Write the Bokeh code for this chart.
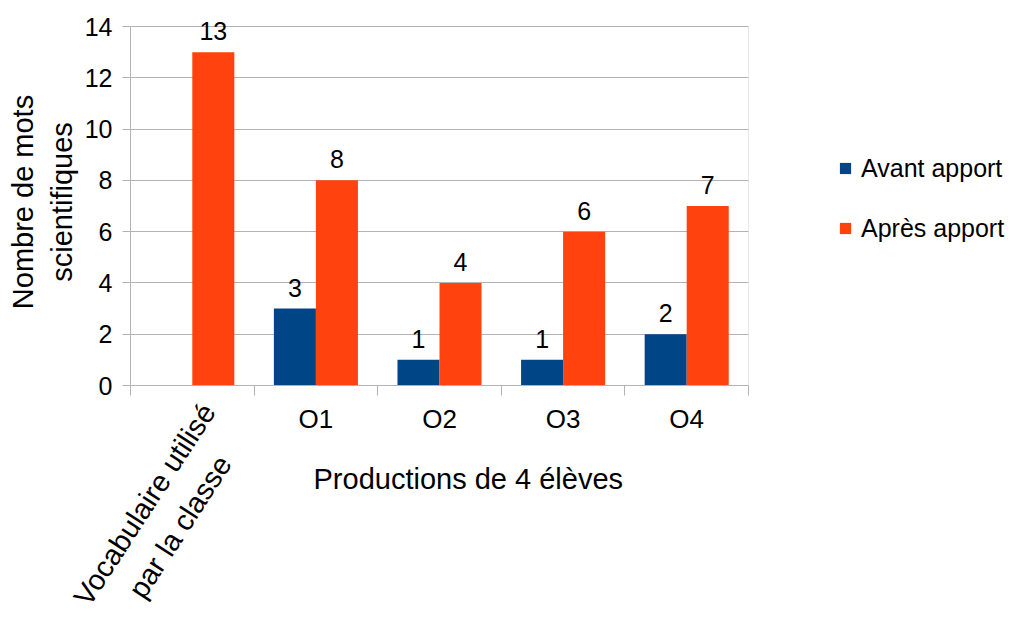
import math
from bokeh.plotting import figure
from bokeh.models import (LabelSet, Legend, LegendItem, FixedTicker, LinearAxis,
                          ColumnDataSource, Range1d, BoxAnnotation, Title)
from bokeh.core.properties import value
from bokeh.embed import file_html
from bokeh.resources import INLINE

# ---- data ----
categories = ["Vocabulaire utilisé\npar la classe", "O1", "O2", "O3", "O4"]
avant = [0, 3, 1, 1, 2]
apres = [13, 8, 4, 6, 7]
series_names = ["Avant apport", "Après apport"]
y_ticks = [0, 2, 4, 6, 8, 10, 12, 14]
x_title = "Productions de 4 élèves"
y_title = "Nombre de mots\nscientifiques"

BLUE = "#004586"
ORANGE = "#ff420e"
GRID = "#b3b3b3"
FONT = "Liberation Sans"

n = len(categories)
y_max = y_ticks[-1]
centers = [i + 0.5 for i in range(n)]
bw = 0.34

# ---- layout (pixels) ----
W, H = 1013, 626
left_px, right_px, zero_px, y_max_px, top_px = 130, 748, 385, 26, 18
ppx = (right_px - left_px) / n
ppy = (zero_px - y_max_px) / y_max
x_rng = Range1d(0, (W - left_px) / ppx)        # frame runs to the right edge (legend inside)
y_rng = Range1d(0, (zero_px - top_px) / ppy)    # a little headroom for the top label

p = figure(width=W, height=H, x_range=x_rng, y_range=y_rng,
           output_backend="svg", toolbar_location=None, title=None,
           min_border_left=left_px, min_border_right=0, min_border_top=top_px,
           min_border_bottom=H - zero_px)
p.background_fill_color = "white"
p.border_fill_color = "white"
p.outline_line_color = None

# grid limited to the plot area, plus the plot-area border
p.xgrid.visible = False
p.ygrid.grid_line_color = GRID
p.ygrid.ticker = FixedTicker(ticks=y_ticks)
p.add_layout(BoxAnnotation(left=n, fill_color="white", fill_alpha=1.0,
                           line_alpha=0, level="underlay"))
p.add_layout(BoxAnnotation(left=0, right=n, bottom=0, top=y_max,
                           fill_alpha=0, line_color=GRID, line_width=1,
                           level="underlay"))

src_a = ColumnDataSource(dict(x=[c - bw / 2 for c in centers], top=avant))
src_b = ColumnDataSource(dict(x=[c + bw / 2 for c in centers], top=apres))
r1 = p.vbar(x="x", top="top", width=bw, bottom=0, source=src_a,
            fill_color=BLUE, line_color=None)
r2 = p.vbar(x="x", top="top", width=bw, bottom=0, source=src_b,
            fill_color=ORANGE, line_color=None)

# value labels
lab_x, lab_y, lab_t = [], [], []
for c, v in zip(centers, avant):
    if v > 0:
        lab_x.append(c - bw / 2); lab_y.append(v); lab_t.append(str(v))
for c, v in zip(centers, apres):
    if v > 0:
        lab_x.append(c + bw / 2); lab_y.append(v); lab_t.append(str(v))
lsrc = ColumnDataSource(dict(x=lab_x, y=lab_y, t=lab_t))
p.add_layout(LabelSet(x="x", y="y", text="t", source=lsrc, y_offset=21,
                      text_align="center", text_baseline="middle",
                      text_font=value(FONT), text_font_size=value("25px"),
                      text_color="black"))

# y axis
p.yaxis.ticker = FixedTicker(ticks=y_ticks)
p.yaxis.bounds = (0, y_max)
p.yaxis.major_tick_out = 8
p.yaxis.major_tick_in = 0
p.yaxis.minor_tick_line_color = None
p.yaxis.axis_line_color = GRID
p.yaxis.major_tick_line_color = GRID
p.yaxis.major_label_text_font = FONT
p.yaxis.major_label_text_font_size = "25px"
p.yaxis.major_label_text_color = "black"
p.yaxis.major_label_standoff = 10
p.yaxis.axis_label = y_title
p.yaxis.axis_label_text_font = FONT
p.yaxis.axis_label_text_font_size = "29px"
p.yaxis.axis_label_text_font_style = "normal"
p.yaxis.axis_label_text_color = "black"
p.yaxis.axis_label_standoff = 4

# x axis: horizontal category labels at centres, ticks at boundaries
flat = [c for c, cat in zip(centers, categories) if "\n" not in cat]
xa = p.xaxis[0]
xa.bounds = (0, n)
xa.ticker = FixedTicker(ticks=flat, minor_ticks=list(range(n + 1)))
xa.major_label_overrides = {c: cat for c, cat in zip(centers, categories)
                            if "\n" not in cat}
xa.major_tick_out = 0
xa.major_tick_in = 0
xa.minor_tick_out = 10
xa.minor_tick_in = 0
xa.minor_tick_line_color = GRID
xa.axis_line_color = GRID
xa.major_label_text_font = FONT
xa.major_label_text_font_size = "26px"
xa.major_label_text_color = "black"
xa.major_label_standoff = 8

# x title
p.add_layout(Title(text=x_title, align="left", offset=183, standoff=49,
                   text_font=FONT, text_font_size="29px",
                   text_font_style="normal", text_color="black"), "below")

# rotated two-line category label: one extra axis per line, stacked below the
# title and pulled back up with a negative standoff
ang = math.radians(57)
line_dx = [16, 32]          # right end of each line, px right of the category centre
standoffs = [-113, -164]
for c, cat in zip(centers, categories):
    lines = cat.split("\n")
    if len(lines) > 1:
        for dx, so, line in zip(line_dx, standoffs, lines):
            t = round(c + dx / ppx, 4)
            ax = LinearAxis(ticker=FixedTicker(ticks=[t]),
                            major_label_overrides={t: line},
                            major_label_orientation=ang,
                            major_label_standoff=so,
                            major_tick_out=0, major_tick_in=0,
                            minor_tick_out=0, minor_tick_in=0,
                            axis_line_color=None, major_tick_line_color=None,
                            minor_tick_line_color=None,
                            major_label_text_font=FONT,
                            major_label_text_font_size="29px",
                            major_label_text_color="black")
            p.add_layout(ax, "below")

legend = Legend(items=[LegendItem(label=series_names[0], renderers=[r1]),
                       LegendItem(label=series_names[1], renderers=[r2])],
                location=(708, zero_px - 243), padding=0, margin=0,
                spacing=30, glyph_width=14, glyph_height=14, label_height=30,
                label_standoff=9, border_line_color=None,
                background_fill_alpha=0, label_text_font=FONT,
                label_text_font_size="25px", label_text_color="black",
                label_text_baseline="middle")
p.add_layout(legend)

open("out.html", "w").write(file_html(p, INLINE))
